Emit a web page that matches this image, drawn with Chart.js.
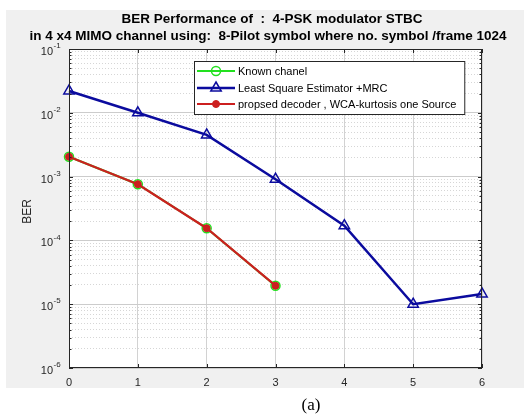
<!DOCTYPE html>
<html>
<head>
<meta charset="utf-8">
<style>
  html, body { margin: 0; padding: 0; background: #fff; }
  #wrap { width: 524px; height: 418px; }
</style>
<script src="https://cdn.jsdelivr.net/npm/chart.js@4/dist/chart.umd.min.js"></script>
</head>
<body>
<div id="wrap"><canvas id="berChart" width="524" height="418"></canvas></div>
<script>
// data
const snrPoints = [0, 1, 2, 3, 4, 5, 6];
const knownChannel = [2.05e-3, 7.6e-4, 1.55e-4, 1.95e-5];
const lsMrc = [2.2e-2, 1.0e-2, 4.5e-3, 9.1e-4, 1.7e-4, 1.0e-5, 1.45e-5];
const proposed = [2.05e-3, 7.6e-4, 1.55e-4, 1.95e-5];
const seriesNames = [
  'Known chanel',
  'Least Square Estimator +MRC',
  'propsed decoder , WCA-kurtosis one Source',
];
const xTicks = [0, 1, 2, 3, 4, 5, 6];
const yExponents = [-6, -5, -4, -3, -2, -1];
const titleLines = [
  'BER Performance of  :  4-PSK modulator STBC',
  'in 4 x4 MIMO channel using:  8-Pilot symbol where no. symbol /frame 1024',
];

const toPoints = (vals) => vals.map((v, i) => ({ x: snrPoints[i], y: v }));

const isMajor = (v) => {
  const l = Math.log10(v);
  return Math.abs(l - Math.round(l)) < 1e-6;
};

const BLUE = '#0b0b9e';
const RED = '#cc1f1f';
const GREEN = '#22e01f';
const AXIS = '#262626';
const SANS = 'Arial, "Liberation Sans", sans-serif';

const matlabFrame = {
  id: 'matlabFrame',
  beforeDraw(chart) {
    const { ctx, chartArea: a } = chart;
    ctx.save();
    ctx.fillStyle = '#fff';
    ctx.fillRect(0, 0, chart.width, chart.height);
    ctx.fillStyle = '#f0f0f0';
    ctx.fillRect(6, 10, 518, 378);
    ctx.fillStyle = '#fff';
    ctx.fillRect(a.left, a.top, a.right - a.left, a.bottom - a.top);
    ctx.restore();
  },
  afterDatasetsDraw(chart) {
    const { ctx, chartArea: a, scales } = chart;
    ctx.save();
    // axes box
    ctx.strokeStyle = AXIS;
    ctx.lineWidth = 1;
    ctx.strokeRect(a.left + 0.5, a.top + 0.5, a.right - a.left - 1, a.bottom - a.top - 1);

    // inward tick marks
    ctx.beginPath();
    xTicks.forEach((t) => {
      const x = Math.round(scales.x.getPixelForValue(t)) + 0.5;
      ctx.moveTo(x, a.bottom); ctx.lineTo(x, a.bottom - 4);
      ctx.moveTo(x, a.top); ctx.lineTo(x, a.top + 4);
    });
    scales.y.ticks.forEach((t) => {
      const y = Math.round(scales.y.getPixelForValue(t.value)) + 0.5;
      const len = isMajor(t.value) ? 4 : 2.5;
      ctx.moveTo(a.left, y); ctx.lineTo(a.left + len, y);
      ctx.moveTo(a.right, y); ctx.lineTo(a.right - len, y);
    });
    ctx.stroke();

    // y tick labels 10^k
    ctx.fillStyle = AXIS;
    ctx.textBaseline = 'middle';
    yExponents.forEach((k) => {
      const y = scales.y.getPixelForValue(Math.pow(10, k));
      ctx.font = '11px ' + SANS;
      ctx.textAlign = 'right';
      ctx.fillText('10', 53, y + 3);
      ctx.font = '8px ' + SANS;
      ctx.textAlign = 'left';
      ctx.fillText(String(k), 53.5, y - 3);
    });

    // y axis title
    ctx.save();
    ctx.translate(28, (a.top + a.bottom) / 2 + 3);
    ctx.rotate(-Math.PI / 2);
    ctx.textAlign = 'center';
    ctx.font = '12px ' + SANS;
    ctx.fillText('BER', 0, 0);
    ctx.restore();

    // title
    ctx.fillStyle = '#000';
    ctx.textAlign = 'center';
    ctx.font = 'bold 13.5px ' + SANS;
    ctx.fillText(titleLines[0], 272, 19);
    ctx.fillText(titleLines[1], 268, 36);

    // caption
    ctx.font = '17px "Times New Roman", "Liberation Serif", serif';
    ctx.fillText('(a)', 311, 406);

    // legend
    ctx.font = '11px ' + SANS;
    const lx = 194, ly = 61;
    const textW = Math.max(...seriesNames.map((s) => ctx.measureText(s).width));
    const lw = 44 + textW + 8, lh = 53;
    ctx.fillStyle = '#fff';
    ctx.fillRect(lx, ly, lw, lh);
    ctx.strokeStyle = AXIS;
    ctx.lineWidth = 1;
    ctx.strokeRect(lx + 0.5, ly + 0.5, lw, lh);
    const rows = [71, 88, 104];
    chart.data.datasets.forEach((ds, i) => {
      const y = rows[i];
      const cx = lx + 22;
      ctx.strokeStyle = ds.borderColor;
      ctx.lineWidth = ds.borderWidth;
      ctx.beginPath();
      ctx.moveTo(lx + 3, y); ctx.lineTo(lx + 41, y);
      ctx.stroke();
      ctx.fillStyle = ds.pointBackgroundColor;
      ctx.strokeStyle = ds.pointBorderColor;
      ctx.lineWidth = ds.pointBorderWidth;
      ctx.beginPath();
      if (ds.pointStyle === 'triangle') {
        const r = ds.pointRadius;
        ctx.moveTo(cx, y - r);
        ctx.lineTo(cx + r * 0.87, y + r * 0.5);
        ctx.lineTo(cx - r * 0.87, y + r * 0.5);
        ctx.closePath();
      } else {
        ctx.arc(cx, y, ds.pointRadius, 0, Math.PI * 2);
      }
      if (ds.pointBackgroundColor !== 'transparent') ctx.fill();
      ctx.stroke();
      ctx.fillStyle = '#000';
      ctx.textAlign = 'left';
      ctx.fillText(ds.label, lx + 44, y + 0.5);
    });
    ctx.restore();
  },
};

new Chart(document.getElementById('berChart'), {
  type: 'line',
  data: {
    datasets: [
      {
        label: seriesNames[0],
        data: toPoints(knownChannel),
        borderColor: GREEN,
        borderWidth: 2,
        pointStyle: 'circle',
        pointRadius: 4.5,
        pointBorderWidth: 1.5,
        pointBorderColor: GREEN,
        pointBackgroundColor: 'transparent',
        order: 2,
      },
      {
        label: seriesNames[1],
        data: toPoints(lsMrc),
        borderColor: BLUE,
        borderWidth: 2.5,
        pointStyle: 'triangle',
        pointRadius: 6,
        pointBorderWidth: 1.5,
        pointBorderColor: BLUE,
        pointBackgroundColor: 'transparent',
        order: 1,
      },
      {
        label: seriesNames[2],
        data: toPoints(proposed),
        borderColor: RED,
        borderWidth: 2.2,
        pointStyle: 'circle',
        pointRadius: 3.5,
        pointBorderWidth: 1,
        pointBorderColor: RED,
        pointBackgroundColor: RED,
        order: 0,
      },
    ],
  },
  options: {
    responsive: false,
    animation: false,
    clip: false,
    layout: { padding: { top: 49, right: 42, left: 0, bottom: 0 } },
    plugins: {
      legend: { display: false },
      tooltip: { enabled: false },
      title: { display: false },
    },
    elements: { line: { tension: 0 } },
    scales: {
      x: {
        type: 'linear',
        min: 0,
        max: 6,
        afterFit: (s) => { s.height = 50; },
        afterBuildTicks: (s) => { s.ticks = xTicks.map((v) => ({ value: v })); },
        ticks: {
          color: AXIS,
          font: { family: SANS, size: 11 },
          padding: 8,
          maxRotation: 0,
        },
        grid: { color: '#d2d2d2', lineWidth: 1, drawTicks: false },
        border: { display: false },
      },
      y: {
        type: 'logarithmic',
        min: 1e-6,
        max: 1e-1,
        afterFit: (s) => { s.width = 69; },
        afterBuildTicks: (s) => {
          const t = [];
          for (let k = -6; k < -1; k++) {
            for (let m = 1; m <= 9; m++) t.push({ value: m * Math.pow(10, k) });
          }
          t.push({ value: 1e-1 });
          s.ticks = t;
        },
        ticks: { display: false },
        grid: {
          drawTicks: false,
          lineWidth: 1,
          color: (c) => (c.tick && isMajor(c.tick.value) ? '#cccccc' : '#d6d6d6'),
        },
        border: {
          display: false,
          dash: (c) => (c.tick && !isMajor(c.tick.value) ? [1, 2] : []),
        },
      },
    },
  },
  plugins: [matlabFrame],
});
</script>
</body>
</html>
